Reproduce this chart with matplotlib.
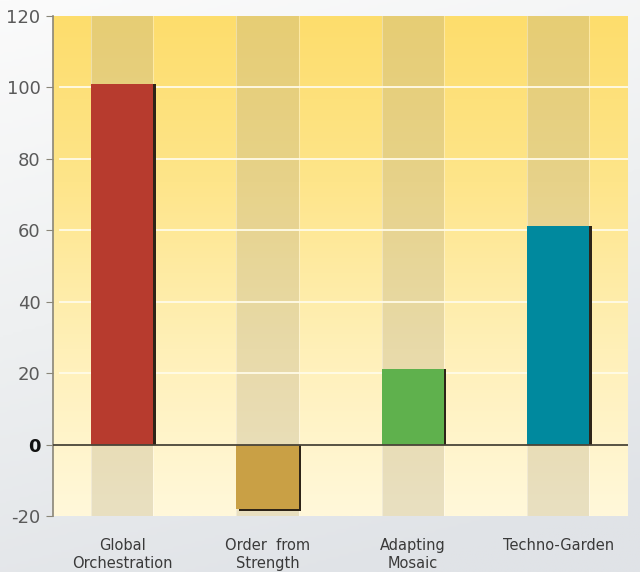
import numpy as np
import matplotlib
matplotlib.use("Agg")
import matplotlib.pyplot as plt
from matplotlib.colors import LinearSegmentedColormap

categories = ["Global\nOrchestration", "Order  from\nStrength", "Adapting\nMosaic", "Techno-Garden"]
values = [101, -18, 21, 61]
colors = ["#b73b2e", "#c9a045", "#5fb14d", "#00899e"]
yticks = [-20, 0, 20, 40, 60, 80, 100, 120]

fig = plt.figure(figsize=(6.4, 5.72), dpi=100)

# figure background gradient (light top-left, grey bottom)
bg = fig.add_axes([0, 0, 1, 1], zorder=-10)
gx, gy = np.meshgrid(np.linspace(0, 1, 200), np.linspace(0, 1, 200))
d = np.clip(0.25 * gx + 0.85 * gy, 0, 1)
cm_bg = LinearSegmentedColormap.from_list("bg", ["#fbfbfb", "#eef0f1", "#e0e3e7"])
bg.imshow(d, cmap=cm_bg, extent=[0, 1, 0, 1], aspect="auto", origin="upper")
bg.axis("off")

ax = fig.add_axes([53 / 640, 56 / 572, 575 / 640, 500.4 / 572])
ax.set_facecolor("none")
x = np.arange(len(categories))
xlo, xhi = -0.475, len(categories) - 1 + 0.48
ax.set_xlim(xlo, xhi)
ax.set_ylim(-20, 120)

# plot-area gradient
cm_pa = LinearSegmentedColormap.from_list("pa", ["#fddd6c", "#fee58a", "#fff0b8", "#fff8da"])
grad = np.linspace(0, 1, 256).reshape(-1, 1)
ax.imshow(grad, cmap=cm_pa, extent=[xlo, xhi, -20, 120],
          aspect="auto", origin="upper", zorder=0)

bw = 0.43
# darker bands behind each bar
for xi in x:
    ax.bar(xi, 140, bottom=-20, width=bw, color="#b3a888", alpha=0.3, zorder=1, linewidth=0)
    for e in (xi - bw / 2, xi + bw / 2):
        ax.plot([e, e], [-20, 120], color="#ffffff", alpha=0.35, lw=0.8, zorder=1.5)

# gridlines
for yt in yticks[2:-1]:
    ax.plot([xlo + 0.05, xhi], [yt, yt], color="#fffbe8", lw=1.3, zorder=2)

# bars with shadow
for xi, v, c in zip(x, values, colors):
    sv = v if v >= 0 else v - 0.6
    ax.bar(xi + 0.016, sv, width=bw, color="#2e2418", zorder=3, linewidth=0)
    ax.bar(xi, v, width=bw, color=c, zorder=4, linewidth=0)

ax.axhline(0, color="#4a4538", lw=1.3, zorder=5)

for s in ["top", "right", "bottom"]:
    ax.spines[s].set_visible(False)
ax.spines["left"].set_color("#8a8678")
ax.spines["left"].set_linewidth(1.2)

ax.set_yticks(yticks)
ax.set_yticklabels([str(t) for t in yticks], fontsize=13, color="#5a5a5a")
for lbl in ax.get_yticklabels():
    if lbl.get_text() == "0":
        lbl.set_color("#111111")
        lbl.set_fontweight("bold")
ax.tick_params(axis="y", length=5, color="#8a8678", pad=4)
ax.set_xticks(x)
ax.set_xticklabels(categories, fontsize=10.5, color="#3a3a3a", linespacing=1.2)
ax.tick_params(axis="x", length=0, pad=16)

fig.savefig("out.png", dpi=100)
